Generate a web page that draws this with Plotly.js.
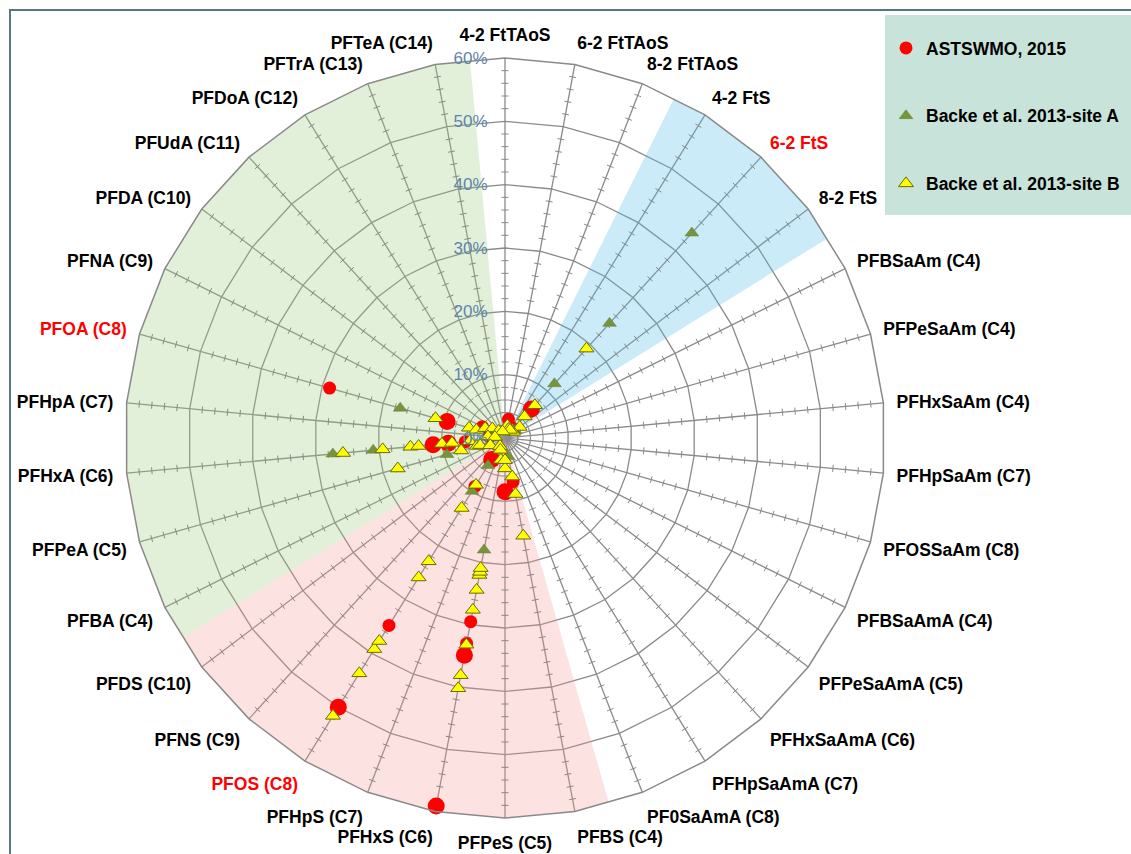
<!DOCTYPE html>
<html><head><meta charset="utf-8">
<script src="https://cdn.plot.ly/plotly-3.0.1.min.js"></script>
<style>html,body{margin:0;padding:0;background:#fff}#chart{width:1131px;height:854px}</style>
</head><body><div id="chart"></div>
<script>
// ---------- categories (clockwise from top) ----------
const categories = [
  '4-2 FtTAoS','6-2 FtTAoS','8-2 FtTAoS','4-2 FtS','6-2 FtS','8-2 FtS',
  'PFBSaAm (C4)','PFPeSaAm (C4)','PFHxSaAm (C4)','PFHpSaAm (C7)','PFOSSaAm (C8)',
  'PFBSaAmA (C4)','PFPeSaAmA (C5)','PFHxSaAmA (C6)','PFHpSaAmA (C7)','PF0SaAmA (C8)',
  'PFBS (C4)','PFPeS (C5)','PFHxS (C6)','PFHpS (C7)','PFOS (C8)','PFNS (C9)','PFDS (C10)',
  'PFBA (C4)','PFPeA (C5)','PFHxA (C6)','PFHpA (C7)','PFOA (C8)','PFNA (C9)','PFDA (C10)',
  'PFUdA (C11)','PFDoA (C12)','PFTrA (C13)','PFTeA (C14)'
];
const highlightedLabels = ['6-2 FtS','PFOA (C8)','PFOS (C8)'];

// shaded sectors
const greenSector = ['PFBA (C4)','PFPeA (C5)','PFHxA (C6)','PFHpA (C7)','PFOA (C8)','PFNA (C9)','PFDA (C10)','PFUdA (C11)','PFDoA (C12)','PFTrA (C13)','PFTeA (C14)'];
const pinkSector = ['PFBS (C4)','PFPeS (C5)','PFHxS (C6)','PFHpS (C7)','PFOS (C8)','PFNS (C9)','PFDS (C10)'];
const blueSector = ['4-2 FtS','6-2 FtS','8-2 FtS'];
const radialMax = 60;

// ---------- ASTSWMO, 2015 (red circles) ----------
const astswmoLargeTheta = ['PFHxS (C6)','PFOS (C8)','PFHxS (C6)','PFPeS (C5)','PFHxA (C6)','PFHxA (C6)','PFOA (C8)','PFOS (C8)','6-2 FtS'];
const astswmoLargeR     = [59.1, 50.0, 34.9, 8.5, 11.4, 9.0, 9.5, 4.0, 6.2];
const astswmoSmallTheta = ['PFOA (C8)','PFOS (C8)','PFHxS (C6)','PFHxS (C6)','PFBS (C4)','PFHxA (C6)','PFNA (C9)','6-2 FtTAoS','PFOS (C8)','PFHpA (C7)','4-2 FtS'];
const astswmoSmallR     = [28.8, 34.8, 29.5, 33.0, 7.0, 6.3, 4.0, 3.0, 9.0, 2.5, 2.0];

// ---------- Backe et al. 2013 - site A (green triangles) ----------
const siteATheta = ['6-2 FtS','6-2 FtS','6-2 FtS','PFOA (C8)','PFHxA (C6)','PFHxA (C6)','PFPeA (C5)','PFOS (C8)','PFOS (C8)','PFHxS (C6)','PFHpA (C7)','PFBS (C4)','8-2 FtS'];
const siteAR     = [43.8, 24.5, 11.6, 17.2, 27.3, 20.9, 9.5, 9.9, 5.1, 18.0, 2.0, 3.0, 2.0];

// ---------- Backe et al. 2013 - site B (yellow triangles) ----------
const siteBTheta = [
  '6-2 FtS','6-2 FtS','6-2 FtS','6-2 FtS','8-2 FtS','8-2 FtS','6-2 FtTAoS','8-2 FtTAoS','4-2 FtS',
  'PFOA (C8)','PFOA (C8)','PFOA (C8)','PFNA (C9)','PFDA (C10)','PFUdA (C11)','PFTrA (C13)','PFHpA (C7)','PFHpA (C7)',
  'PFHxA (C6)','PFHxA (C6)','PFHxA (C6)','PFHxA (C6)','PFHxA (C6)','PFHxA (C6)','PFHxA (C6)',
  'PFPeA (C5)','PFPeA (C5)','PFPeA (C5)','PFPeA (C5)','PFBA (C4)',
  'PFOS (C8)','PFOS (C8)','PFOS (C8)','PFOS (C8)','PFOS (C8)','PFOS (C8)','PFOS (C8)','PFOS (C8)','PFOS (C8)',
  'PFHxS (C6)','PFHxS (C6)','PFHxS (C6)','PFHxS (C6)','PFHxS (C6)','PFHxS (C6)','PFHxS (C6)','PFHxS (C6)','PFHxS (C6)',
  'PFPeS (C5)','PFPeS (C5)','PFBS (C4)','PFBS (C4)','PFBS (C4)','PFHpS (C7)'
];
const siteBR = [
  19.1, 7.0, 4.6, 1.7, 2.9, 1.6, 2.0, 1.5, 1.5,
  11.4, 5.9, 4.7, 3.5, 2.5, 1.5, 1.1, 2.7, 1.6,
  25.7, 19.4, 15.0, 13.7, 10.0, 8.4, 5.6,
  17.6, 7.2, 4.6, 4.1, 2.6,
  51.6, 43.7, 39.2, 37.7, 25.9, 22.9, 13.0, 8.7, 1.5,
  40.2, 38.1, 33.2, 27.6, 24.4, 22.0, 21.5, 20.9, 3.5,
  4.8, 3.5, 15.7, 9.0, 6.2, 2.0
];

// ---------- spoke tick marks (decoration, every 2%) ----------
const tickTheta = [], tickR = [], tickAngle = [];
categories.forEach(function(c, i){
  for (let v = 2; v < radialMax; v += 2) {
    if (v % 10 === 0) continue;
    tickTheta.push(c); tickR.push(v); tickAngle.push(i * 360 / categories.length + 90);
  }
});

const ticktext = categories.map(c => highlightedLabels.includes(c) ? '<span style="color:#ff0000">' + c + '</span>' : c);

function sector(theta, color){
  return {type:'barpolar', theta:theta, r:theta.map(()=>radialMax), marker:{color:color, line:{width:0}},
          showlegend:false, hoverinfo:'skip'};
}

const traces = [
  sector(greenSector, 'rgba(160,205,130,0.30)'),
  sector(pinkSector,  'rgba(248,150,150,0.28)'),
  sector(blueSector,  'rgba(80,190,230,0.30)'),
  {type:'scatterpolar', mode:'markers', theta:tickTheta, r:tickR, showlegend:false, hoverinfo:'skip',
   marker:{symbol:'line-ns', size:5, angle:tickAngle, color:'#8a8a8a', line:{color:'#8a8a8a', width:1}}},
  {type:'scatterpolar', mode:'markers', name:'ASTSWMO, 2015', legendgroup:'a', theta:astswmoSmallTheta, r:astswmoSmallR,
   marker:{symbol:'circle', size:13, color:'#ff0000'}},
  {type:'scatterpolar', mode:'markers', name:'ASTSWMO, 2015', legendgroup:'a', showlegend:false, theta:astswmoLargeTheta, r:astswmoLargeR,
   marker:{symbol:'circle', size:17, color:'#ff0000'}},
  {type:'scatterpolar', mode:'markers', name:'Backe et al. 2013-site A', legendgroup:'b', theta:siteATheta, r:siteAR,
   marker:{symbol:'triangle-up', size:12, color:'#77933c', line:{color:'#6a8535', width:0.5}}},
  {type:'scatterpolar', mode:'markers', name:'Backe et al. 2013-site B', legendgroup:'c', theta:siteBTheta, r:siteBR,
   marker:{symbol:'triangle-up', size:13, color:'#ffff00', line:{color:'#6b6b00', width:1}}}
];

const layout = {
  width:1131, height:854, margin:{l:0,r:0,t:0,b:0},
  paper_bgcolor:'#ffffff',
  font:{family:'Liberation Sans, Arial, sans-serif', color:'#000'},
  showlegend:true,
  polar:{
    domain:{x:[125/1131, 885/1131], y:[36/854, 796/854]},
    gridshape:'linear', bgcolor:'rgba(0,0,0,0)', bargap:0, hole:0,
    angularaxis:{type:'category', categoryorder:'array', categoryarray:categories,
      direction:'clockwise', rotation:90, showline:true, linecolor:'#8a8a8a', linewidth:1.5,
      gridcolor:'#8a8a8a', gridwidth:1.3, ticks:'outside', ticklen:9, tickcolor:'rgba(0,0,0,0)',
      tickmode:'array', tickvals:categories, ticktext:ticktext,
      tickfont:{size:17.5, color:'#000', weight:'bold'}},
    radialaxis:{range:[0,radialMax], tick0:0, dtick:10, ticksuffix:'%', angle:90, side:'counterclockwise',
      tickangle:90, showline:false, gridcolor:'#8a8a8a', gridwidth:1.3, ticks:'outside', ticklen:11,
      tickcolor:'rgba(0,0,0,0)', tickfont:{size:17, color:'#5f84aa'}}
  },
  legend:{x:886/1131, y:1-30/854, xanchor:'left', yanchor:'top', bgcolor:'rgba(0,0,0,0)', borderwidth:0,
    font:{size:17.5, color:'#000', weight:'bold'}, tracegroupgap:42},
  shapes:[
    {type:'rect', xref:'paper', yref:'paper', x0:885/1131, x1:1.01, y0:1-215/854, y1:1-15/854,
     fillcolor:'#c8e4da', line:{width:0}, layer:'below'},
    {type:'rect', xref:'paper', yref:'paper', x0:10/1131, x1:1.02, y0:-0.05, y1:1-10/854,
     fillcolor:'rgba(0,0,0,0)', line:{color:'#557780', width:2}, layer:'above'}
  ]
};

Plotly.newPlot('chart', traces, layout, {staticPlot:true, displayModeBar:false});
</script>
</body></html>
